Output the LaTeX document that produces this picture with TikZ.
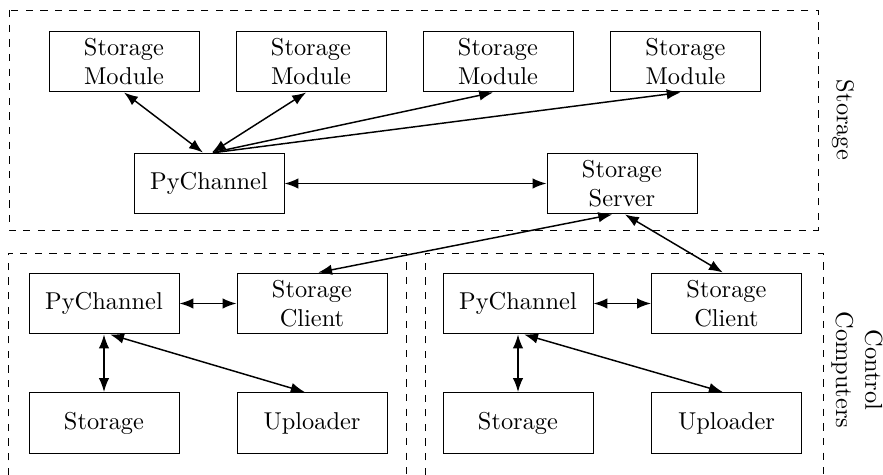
\documentclass[tikz,border=0pt]{standalone}
\usepackage{tikz}
\usetikzlibrary{arrows.meta,positioning}

\tikzset{
  blk/.style={draw, minimum width=61.5pt, minimum height=25pt, align=center, inner sep=1pt},
  link/.style={<->, semithick},
  group/.style={dashed}
}

\begin{document}
\begin{tikzpicture}[x=0.41pt,y=-0.41pt,>=Latex]
  \useasboundingbox (0,0) rectangle (883,475);
  % storage side
  \draw[group] (9,10) rectangle (818,230);
  \node[rotate=-90] (lstor) at (843,120) {Storage};
  \node[blk] (m1) at (124,61.5) {Storage\\Module};
  \node[blk] (m2) at (311,61.5) {Storage\\Module};
  \node[blk] (m3) at (498,61.5) {Storage\\Module};
  \node[blk] (m4) at (685.5,61.5) {Storage\\Module};
  \node[blk] (pc) at (209,183.5) {PyChannel};
  \node[blk] (srv) at (622,183.5) {Storage\\Server};
  \draw[link] ([xshift=-2.5pt]pc.north) -- (m1.south);
  \draw[link] ([xshift=1.2pt]pc.north) -- ([xshift=-2pt]m2.south);
  \draw[semithick,->] ([xshift=1.6pt]pc.north) -- ([xshift=-2pt]m3.south);
  \draw[semithick,->] ([xshift=2.5pt]pc.north) -- ([xshift=-2pt]m4.south);
  \draw[link] (pc) -- (srv);
  % control computers
  \draw[group] (8,475) -- (8,253) -- (406,253) -- (406,475);
  \draw[group] (425,475) -- (425,253) -- (823,253) -- (823,475);
  \node[rotate=-90,align=center] (lctl) at (857,370) {Control\\Computers};
  \node[blk] (pcl) at (104,303.5) {PyChannel};
  \node[blk] (cll) at (312,303.5) {Storage\\Client};
  \node[blk] (stl) at (104,423) {Storage};
  \node[blk] (upl) at (312,423) {Uploader};
  \node[blk] (pcr) at (518,303.5) {PyChannel};
  \node[blk] (clr) at (726.5,303.5) {Storage\\Client};
  \node[blk] (str) at (518,423) {Storage};
  \node[blk] (upr) at (726.5,423) {Uploader};
  \draw[link] ([xshift=-4pt]srv.south) -- ([xshift=2.5pt]cll.north);
  \draw[link] ([xshift=1.2pt]srv.south) -- ([xshift=-1.5pt]clr.north);
  \draw[link] (pcl) -- (cll);
  \draw[link] (pcl) -- (stl);
  \draw[link] ([xshift=2.5pt]pcl.south) -- ([xshift=-3pt]upl.north);
  \draw[link] (pcr) -- (clr);
  \draw[link] (pcr) -- (str);
  \draw[link] ([xshift=2.5pt]pcr.south) -- ([xshift=-1.5pt]upr.north);
\end{tikzpicture}
\end{document}
